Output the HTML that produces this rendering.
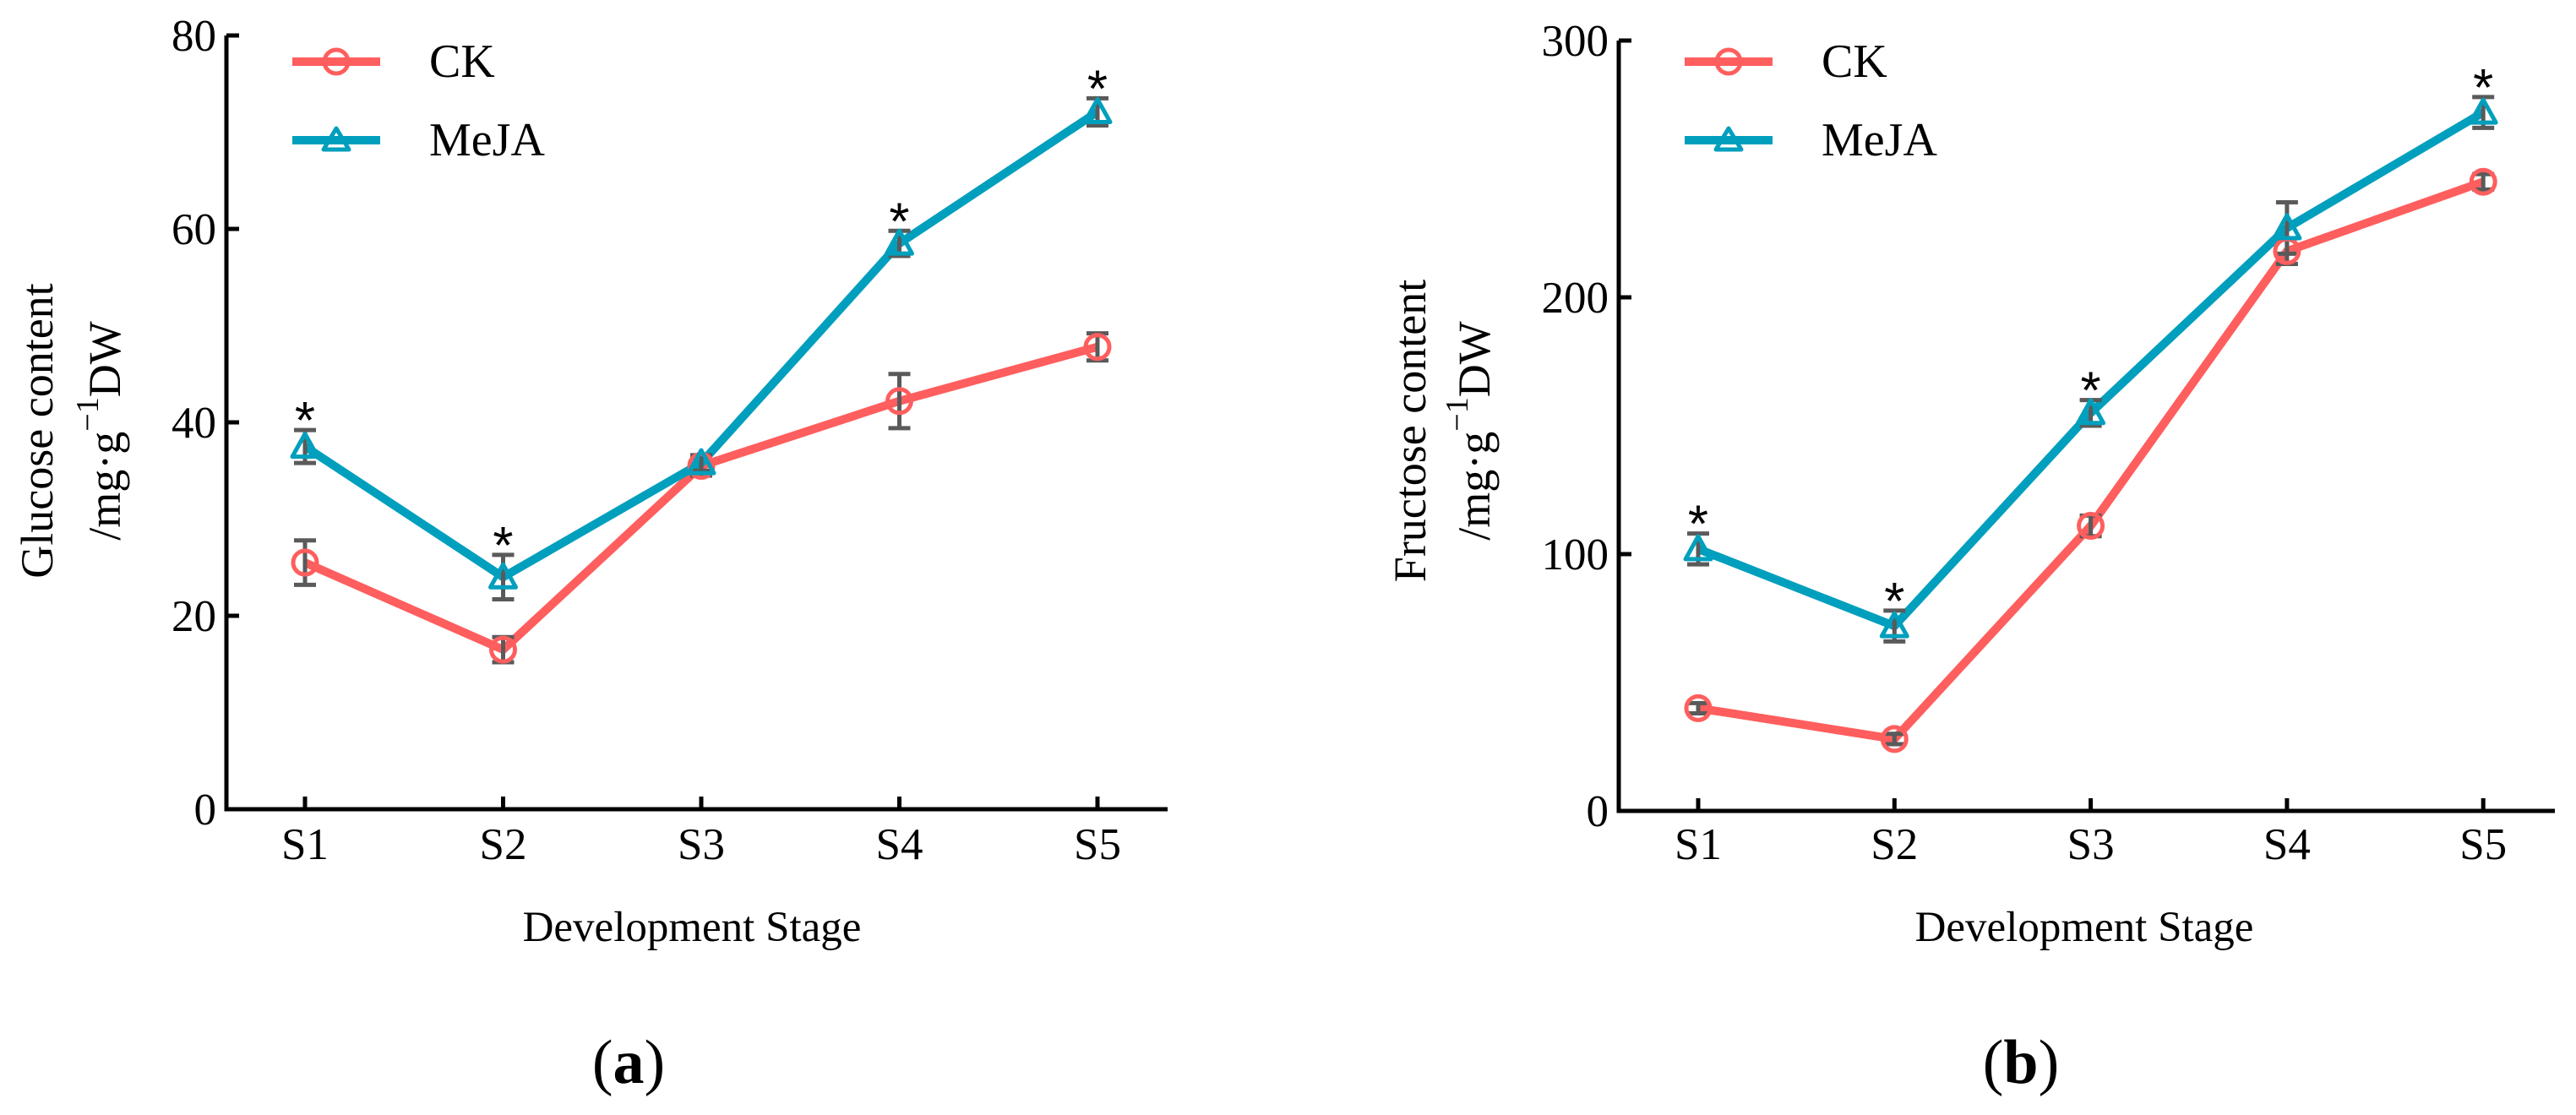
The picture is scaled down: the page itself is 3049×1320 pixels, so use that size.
<!DOCTYPE html>
<html><head><meta charset="utf-8"><style>
html,body{margin:0;padding:0;background:#fff;}
svg{display:block;font-family:"Liberation Serif",serif;}
</style></head><body>
<svg id="fig" width="3049" height="1320" viewBox="0 0 3049 1320" xmlns="http://www.w3.org/2000/svg"></svg>
<script>
const categories = ["S1","S2","S3","S4","S5"];
const glucoseCK = [25.5,16.5,35.5,42.2,47.8];
const glucoseCKErr = [2.3,1.3,1.0,2.8,1.4];
const glucoseMeJA = [37.5,24.0,35.8,58.5,72.1];
const glucoseMeJAErr = [1.7,2.3,0.8,1.3,1.4];
const glucoseStars = [1,1,0,1,1];
const glucoseTicks = [0,20,40,60,80];
const fructoseCK = [40,28,111,218,245];
const fructoseCKErr = [2,2,4,5,3];
const fructoseMeJA = [102,72,155,227,272];
const fructoseMeJAErr = [6,6,5,10,6];
const fructoseStars = [1,1,1,0,1];
const fructoseTicks = [0,100,200,300];

const NS="http://www.w3.org/2000/svg";
const svg=document.getElementById('fig');
const CK="#FF5E5E", MJ="#009FBD", EB="#5a5a5a";
function mk(tag,attrs,parent){const e=document.createElementNS(NS,tag);for(const k in attrs)e.setAttribute(k,attrs[k]);(parent||svg).appendChild(e);return e;}

function panel(o){
  const g=mk('g',{});
  
  
  const ymax=o.ticks[o.ticks.length-1];
  const y=v=>o.y0-(v/ymax)*(o.y0-o.ytop);
  const x=i=>o.x1+i*o.dx;
  const ax=mk('path',{d:`M${o.ax} ${o.ytop}V${o.y0}H${o.xr}`,stroke:'#000','stroke-width':5,fill:'none'},g);
  
  
  o.ticks.forEach(t=>{
    const tk=mk('line',{x1:o.ax,x2:o.ax+15,y1:y(t),y2:y(t),stroke:'#000','stroke-width':5},g);
    
    
    const tl=mk('text',{x:o.ax-12,y:y(t)+18,'text-anchor':'end','font-size':53},g);tl.textContent=t;
    
    
  });
  categories.forEach((c,i)=>{
    const tk=mk('line',{x1:x(i),x2:x(i),y1:o.y0,y2:o.y0-15,stroke:'#000','stroke-width':5},g);
    
    
    const tl=mk('text',{x:x(i),y:1017,'text-anchor':'middle','font-size':53},g);tl.textContent=c;
    
    
  });
  const xt=mk('text',{x:o.ax+551,y:1114,'text-anchor':'middle','font-size':51},g);xt.textContent='Development Stage';
  
  
  const yc=510;
  const yt1=mk('text',{transform:`translate(${o.ax+o.t1},${yc}) rotate(-90)`,'text-anchor':'middle','font-size':54},g);yt1.textContent=o.title;
  
  
  const yt2=mk('text',{transform:`translate(${o.ax+o.t2},${yc}) rotate(-90)`,'text-anchor':'middle','font-size':54},g);
  yt2.innerHTML='/mg·g<tspan font-size="38" dy="-26">−1</tspan><tspan dy="26">DW</tspan>';
  
  
  const pl=mk('text',{x:o.ax+476,y:1282,'text-anchor':'middle','font-size':74},g);
  pl.innerHTML='(<tspan font-weight="bold">'+o.label+'</tspan>)';
  
  
  const series=[{v:o.ck,e:o.cke,c:CK,m:'circle',n:'ck'},{v:o.mj,e:o.mje,c:MJ,m:'tri',n:'meja'}];
  series.forEach(s=>{
    const ln=mk('polyline',{points:s.v.map((v,i)=>x(i)+','+y(v)).join(' '),fill:'none',stroke:s.c,'stroke-width':10,'stroke-linejoin':'round'},g);
    
    
  });
  series.forEach(s=>{
    s.v.forEach((v,i)=>{
      const a=y(v+s.e[i]),b=y(v-s.e[i]);
      const eb=mk('path',{d:`M${x(i)-13} ${a}H${x(i)+13}M${x(i)} ${a}V${b}M${x(i)-13} ${b}H${x(i)+13}`,stroke:EB,'stroke-width':5,fill:'none'},g);
      
      
    });
  });
  series.forEach(s=>{
    s.v.forEach((v,i)=>{
      let m;
      if(s.m==='circle') m=mk('circle',{cx:x(i),cy:y(v),r:14,fill:'none',stroke:s.c,'stroke-width':5},g);
      else m=mk('path',{d:`M${x(i)} ${y(v)-15}L${x(i)+15} ${y(v)+12}H${x(i)-15}Z`,fill:'none',stroke:s.c,'stroke-width':5,'stroke-linejoin':'round'},g);
      
      
    });
  });
  o.stars.forEach((s,i)=>{
    if(!s)return;
    const t=mk('text',{x:x(i),y:y(o.mj[i]+o.mje[i])+10,'text-anchor':'middle','font-size':62,'font-family':'Liberation Sans, sans-serif'},g);t.textContent='*';
    
    
  });
  [{n:'CK',c:CK,m:'circle',y:73},{n:'MeJA',c:MJ,m:'tri',y:166}].forEach(l=>{
    const lg=mk('g',{},g);
    
    
    mk('line',{x1:o.lx,x2:o.lx+104,y1:l.y,y2:l.y,stroke:l.c,'stroke-width':10},lg);
    const cx=o.lx+52;
    if(l.m==='circle') mk('circle',{cx:cx,cy:l.y,r:14,fill:'none',stroke:l.c,'stroke-width':5},lg);
    else mk('path',{d:`M${cx} ${l.y-14}L${cx+15} ${l.y+11}H${cx-15}Z`,fill:'none',stroke:l.c,'stroke-width':5,'stroke-linejoin':'round'},lg);
    const tx=mk('text',{x:o.lx+162,y:l.y+18,'font-size':56},lg);tx.textContent=l.n;
  });
}
panel({name:'glucose-chart',label:'a',ax:268,ytop:42,y0:958,xr:1382,x1:361,dx:234.5,ticks:glucoseTicks,ck:glucoseCK,cke:glucoseCKErr,mj:glucoseMeJA,mje:glucoseMeJAErr,stars:glucoseStars,title:'Glucose content',t1:-206,t2:-126,lx:346});
panel({name:'fructose-chart',label:'b',ax:1916,ytop:48,y0:960,xr:3024,x1:2010,dx:232.3,ticks:fructoseTicks,ck:fructoseCK,cke:fructoseCKErr,mj:fructoseMeJA,mje:fructoseMeJAErr,stars:fructoseStars,title:'Fructose content',t1:-229,t2:-153,lx:1994});
</script>
</body></html>
